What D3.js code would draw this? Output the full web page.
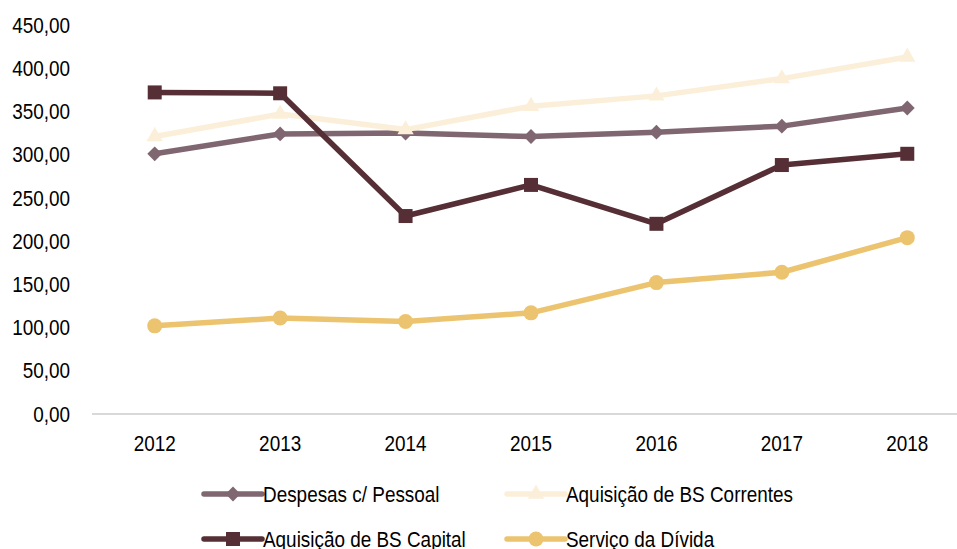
<!DOCTYPE html>
<html>
<head>
<meta charset="utf-8">
<script src="https://cdn.jsdelivr.net/npm/d3@7"></script>
<style>
html,body{margin:0;padding:0;background:#fff;}
svg text{font-family:"Liberation Sans Narrow","Arial Narrow","Liberation Sans",Arial,sans-serif;fill:#000;}
</style>
</head>
<body>
<svg id="chart" width="957" height="549"></svg>
<script>
const years = ["2012","2013","2014","2015","2016","2017","2018"];
const despesas = [301, 324, 325, 321, 326, 333, 354];
const correntes = [321, 347, 329, 356, 368, 388, 413];
const capital = [372, 371, 229, 265, 220, 288, 301];
const servico = [102, 111, 107, 117, 152, 164, 204];
const yTicks = [0,50,100,150,200,250,300,350,400,450];
const seriesNames = ["Despesas c/ Pessoal","Aquisição de BS Correntes","Aquisição de BS Capital","Serviço da Dívida"];
const seriesColors = ["#7f6670","#fbefd9","#552f35","#ecc46f"];
const seriesShapes = ["diamond","triangle","square","circle"];

const series = [despesas, correntes, capital, servico].map((v,i)=>({name:seriesNames[i],values:v,color:seriesColors[i],shape:seriesShapes[i]}));

const SX = 0.86;
const svg = d3.select("#chart");
const x = d3.scaleBand().domain(years).range([92, 970]);
const y = d3.scaleLinear().domain([0,450]).range([414, 25]);

// y labels
svg.append("g").selectAll("text").data(yTicks).join("text")
  .attr("transform", d=>`translate(70,${y(d)}) scale(${SX},1)`).attr("dy","0.35em")
  .attr("text-anchor","end").attr("font-size", 22)
  .text(d=>d3.format(".2f")(d).replace(".",","));

// x axis line
svg.append("line").attr("x1",92).attr("x2",970).attr("y1",y(0)).attr("y2",y(0))
  .attr("stroke","#d9d9d9").attr("stroke-width",2);

svg.append("g").selectAll("text").data(years).join("text")
  .attr("transform", d=>`translate(${x(d)+x.bandwidth()/2},443) scale(${SX},1)`).attr("dy","0.35em")
  .attr("text-anchor","middle").attr("font-size",22).text(d=>d);

function markerPath(shape){
  if(shape==="diamond") return d3.symbol().type(d3.symbolSquare).size(110)();
  if(shape==="triangle") return d3.symbol().type(d3.symbolTriangle).size(115)();
  if(shape==="square") return d3.symbol().type(d3.symbolSquare).size(196)();
  return d3.symbol().type(d3.symbolCircle).size(177)();
}
function markerTransform(shape){ return shape==="diamond" ? " rotate(45)" : ""; }

const line = d3.line().x((d,i)=>x(years[i])+x.bandwidth()/2).y(d=>y(d));

series.forEach(s=>{
  const g = svg.append("g");
  g.append("path").attr("d", line(s.values)).attr("fill","none")
    .attr("stroke", s.color).attr("stroke-width",5.5).attr("stroke-linejoin","round");
  g.selectAll("path.m").data(s.values).join("path").attr("class","m")
    .attr("d", markerPath(s.shape))
    .attr("transform",(d,i)=>`translate(${x(years[i])+x.bandwidth()/2},${y(d)})`+markerTransform(s.shape))
    .attr("fill", s.color);
});

// legend
const legendPos = [[204,494],[507,494],[204,539],[507,539]];
series.forEach((s,i)=>{
  const [lx,ly] = legendPos[i];
  const g = svg.append("g").attr("transform",`translate(${lx},${ly})`);
  g.append("line").attr("x1",0).attr("x2",58).attr("y1",0).attr("y2",0)
    .attr("stroke",s.color).attr("stroke-width",5.5).attr("stroke-linecap","round");
  g.append("path").attr("d", markerPath(s.shape)).attr("transform","translate(29,0)"+markerTransform(s.shape)).attr("fill",s.color);
  g.append("text").attr("transform",`translate(59,0) scale(${SX},1)`).attr("dy","0.35em").attr("font-size",22).text(s.name);
});
</script>
</body>
</html>
